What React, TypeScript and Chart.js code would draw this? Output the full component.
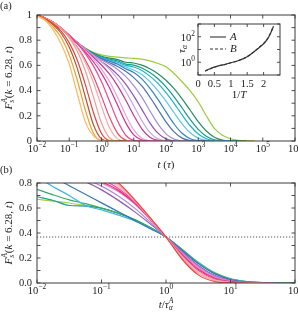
import React, { useEffect, useRef } from 'react';
import { Chart, registerables } from 'chart.js';

Chart.register(...registerables);

const SERIF = "'Liberation Serif', 'DejaVu Serif', serif";
const INK = '#222';
const FRAME = '#3a3a3a';

// ---------------- Panel (a): F_s^A(k=6.28,t) vs t ----------------
const tTop = [0.01, 0.0178, 0.0316, 0.0562, 0.1, 0.178, 0.316, 0.562, 1, 1.78, 3.16, 5.62, 10, 17.8, 31.6, 56.2, 100, 178, 316, 562, 1000, 1780, 3160, 5620, 10000, 17800, 31600, 56200];
const xTopTicks = [0.01, 0.1, 1, 10, 100, 1000, 1e4, 1e5, 1e6];
const xTopExp = ['−2', '−1', '0', '1', '2', '3', '4', '5', '6'];
const yTopTicks = [0, 0.2, 0.4, 0.6, 0.8, 1];
const yTopLabels = ['0', '0.2', '0.4', '0.6', '0.8', '1'];
const yTopMarks = [0, 0.1, 0.2, 0.3, 0.4, 0.5, 0.6, 0.7, 0.8, 0.9, 1];

const topColors = [
  '#FDB85E', '#F59E2C', '#B0583A', '#E8423F', '#F59A8E', '#F6A9B4', '#EE4A66',
  '#F0458F', '#D92E98', '#E7A3D3', '#BE3A98', '#C8A8E0', '#9152B8', '#A48ED0',
  '#4C6FAF', '#2E86C1', '#5CC4EE', '#1FB3C4', '#169C8A', '#2A8C5A', '#9ACD3C',
];

const fA1 = [0.992, 0.958, 0.882, 0.77, 0.61, 0.375, 0.15, 0.04, 0.005, 0, 0];
const fA2 = [0.994, 0.962, 0.905, 0.821, 0.683, 0.482, 0.244, 0.062, 0.004, 0, 0];
const fA3 = [0.995, 0.966, 0.923, 0.855, 0.744, 0.574, 0.349, 0.129, 0.017, 0, 0];
const fA4 = [0.996, 0.969, 0.931, 0.872, 0.779, 0.641, 0.448, 0.226, 0.059, 0.004, 0, 0];
const fA5 = [0.997, 0.973, 0.942, 0.895, 0.82, 0.712, 0.556, 0.35, 0.143, 0.025, 0.001, 0];
const fA6 = [0.997, 0.974, 0.941, 0.894, 0.828, 0.74, 0.622, 0.464, 0.275, 0.105, 0.017, 0.001, 0];
const fA7 = [0.998, 0.975, 0.94, 0.892, 0.826, 0.745, 0.643, 0.513, 0.354, 0.188, 0.061, 0.008, 0, 0];
const fA8 = [0.998, 0.976, 0.944, 0.898, 0.839, 0.772, 0.694, 0.596, 0.47, 0.316, 0.158, 0.046, 0.005, 0, 0];
const fA9 = [0.998, 0.976, 0.942, 0.896, 0.838, 0.774, 0.706, 0.629, 0.537, 0.421, 0.283, 0.146, 0.049, 0.008, 0, 0];
const fA10 = [0.998, 0.976, 0.943, 0.898, 0.84, 0.779, 0.718, 0.65, 0.571, 0.472, 0.346, 0.207, 0.088, 0.021, 0.002, 0, 0];
const fA11 = [0.998, 0.976, 0.941, 0.894, 0.837, 0.778, 0.722, 0.664, 0.603, 0.53, 0.438, 0.325, 0.203, 0.097, 0.03, 0.005, 0, 0];
const fA12 = [0.998, 0.976, 0.941, 0.895, 0.839, 0.782, 0.73, 0.679, 0.627, 0.569, 0.492, 0.395, 0.279, 0.162, 0.068, 0.017, 0.002, 0, 0];
const fA13 = [0.998, 0.976, 0.94, 0.893, 0.836, 0.779, 0.724, 0.675, 0.63, 0.584, 0.527, 0.452, 0.358, 0.251, 0.144, 0.062, 0.017, 0.002, 0, 0];
const fA14 = [0.999, 0.976, 0.94, 0.894, 0.836, 0.781, 0.727, 0.682, 0.644, 0.609, 0.568, 0.513, 0.439, 0.348, 0.24, 0.136, 0.057, 0.015, 0.002, 0, 0];
const fA15 = [0.999, 0.976, 0.94, 0.893, 0.836, 0.781, 0.727, 0.685, 0.65, 0.621, 0.592, 0.554, 0.503, 0.437, 0.349, 0.25, 0.152, 0.072, 0.023, 0.004, 0, 0];
const fA16 = [0.999, 0.976, 0.94, 0.894, 0.836, 0.782, 0.729, 0.688, 0.657, 0.633, 0.609, 0.574, 0.544, 0.493, 0.42, 0.331, 0.231, 0.135, 0.061, 0.018, 0.003, 0, 0];
const fA17 = [0.999, 0.976, 0.94, 0.892, 0.834, 0.779, 0.727, 0.687, 0.657, 0.635, 0.615, 0.587, 0.564, 0.527, 0.471, 0.4, 0.316, 0.224, 0.136, 0.066, 0.023, 0.005, 0.001, 0, 0];
const fA18 = [0.999, 0.976, 0.94, 0.892, 0.833, 0.778, 0.728, 0.688, 0.661, 0.642, 0.625, 0.6, 0.587, 0.559, 0.515, 0.457, 0.384, 0.299, 0.207, 0.121, 0.056, 0.018, 0.004, 0, 0];
const fA19 = [0.999, 0.976, 0.94, 0.892, 0.834, 0.78, 0.731, 0.693, 0.667, 0.649, 0.635, 0.61, 0.602, 0.58, 0.543, 0.494, 0.43, 0.351, 0.262, 0.171, 0.092, 0.038, 0.01, 0.002, 0, 0];
const fA20 = [0.999, 0.976, 0.94, 0.893, 0.835, 0.781, 0.734, 0.698, 0.673, 0.658, 0.646, 0.625, 0.619, 0.602, 0.573, 0.534, 0.482, 0.415, 0.334, 0.244, 0.154, 0.079, 0.03, 0.007, 0.001, 0, 0];
const fA21 = [1, 0.977, 0.942, 0.892, 0.837, 0.782, 0.738, 0.703, 0.683, 0.672, 0.666, 0.66, 0.655, 0.65, 0.636, 0.615, 0.59, 0.536, 0.47, 0.398, 0.31, 0.2, 0.1, 0.045, 0.018, 0.006, 0.002, 0];
const topCurves = [fA1, fA2, fA3, fA4, fA5, fA6, fA7, fA8, fA9, fA10, fA11, fA12, fA13, fA14, fA15, fA16, fA17, fA18, fA19, fA20, fA21];

// ---------------- Inset: tau_alpha vs 1/T ----------------
const invT = [0.22, 0.4, 0.6, 0.8, 1.0, 1.2, 1.4, 1.55, 1.7, 1.85, 2.0, 2.1, 2.2, 2.3];
const tauA = [0.21, 0.34, 0.5, 0.66, 0.91, 1.26, 2.0, 3.3, 6.3, 13.2, 28, 56, 158, 630];
const tauB = [0.2, 0.33, 0.49, 0.65, 0.9, 1.25, 2.0, 3.4, 6.5, 13.8, 29.5, 60, 170, 680];
const insetXTicks = [0, 0.5, 1, 1.5, 2];
const insetXLabels = ['0', '0.5', '1', '1.5', '2'];
const insetYTicks = [0.1, 1, 10, 100, 1000];
const insetYLabelTicks = [1, 100];
const insetYExp = ['0', '2'];

// ---------------- Panel (b): F vs t/tau_alpha ----------------
const uBot = [0.01, 0.0178, 0.0316, 0.0562, 0.1, 0.178, 0.316, 0.562, 1, 1.78, 3.16, 5.62, 10, 17.8, 31.6, 56.2, 100];
const xBotTicks = [0.01, 0.1, 1, 10, 100];
const xBotExp = ['−2', '−1', '0', '1', '2'];
const yBotTicks = [0, 0.2, 0.4, 0.6, 0.8];
const yBotLabels = ['0.0', '0.2', '0.4', '0.6', '0.8'];
const yBotMarks = [0, 0.1, 0.2, 0.3, 0.4, 0.5, 0.6, 0.7, 0.8];
const dottedLevel = [0.3679, 0.3679];
const dottedX = [0.01, 100];

const botColors = [
  '#F0433F', '#F7A59C', '#F6B0C8', '#F2478F', '#E7298A', '#E485C0', '#B58AD0',
  '#8E5BB5', '#3877AE', '#42B3E6', '#35A86A', '#1FA08A', '#A2D044',
];
const fB1 = [0.99, 0.98, 0.96, 0.925, 0.875, 0.805, 0.675, 0.525, 0.368, 0.19, 0.065, 0.012, 0.001, 0];
const fB2 = [0.98, 0.965, 0.945, 0.91, 0.86, 0.79, 0.67, 0.52, 0.368, 0.2, 0.078, 0.018, 0.003, 0];
const fB3 = [0.97, 0.955, 0.93, 0.895, 0.845, 0.775, 0.665, 0.52, 0.368, 0.21, 0.09, 0.025, 0.005, 0.001, 0];
const fB4 = [0.96, 0.945, 0.92, 0.88, 0.83, 0.76, 0.655, 0.515, 0.368, 0.22, 0.1, 0.033, 0.008, 0.001, 0];
const fB5 = [0.95, 0.935, 0.905, 0.865, 0.81, 0.745, 0.645, 0.515, 0.368, 0.228, 0.11, 0.04, 0.011, 0.002, 0];
const fB6 = [0.94, 0.92, 0.89, 0.85, 0.8, 0.735, 0.64, 0.51, 0.368, 0.235, 0.12, 0.047, 0.014, 0.003, 0];
const fB7 = [0.93, 0.905, 0.87, 0.83, 0.775, 0.7, 0.605, 0.49, 0.368, 0.242, 0.13, 0.055, 0.018, 0.004, 0.001, 0];
const fB8 = [0.92, 0.89, 0.85, 0.81, 0.745, 0.665, 0.575, 0.475, 0.368, 0.25, 0.14, 0.062, 0.022, 0.006, 0.001, 0];
const fB9 = [0.9, 0.845, 0.778, 0.71, 0.641, 0.573, 0.505, 0.436, 0.368, 0.26, 0.155, 0.075, 0.028, 0.008, 0.002, 0];
const fB10 = [0.85, 0.77, 0.7, 0.62, 0.585, 0.545, 0.5, 0.44, 0.368, 0.265, 0.16, 0.08, 0.031, 0.01, 0.003, 0];
const fB11 = [0.75, 0.705, 0.665, 0.635, 0.6, 0.56, 0.51, 0.445, 0.368, 0.268, 0.162, 0.08, 0.032, 0.011, 0.003, 0.001, 0];
const fB12 = [0.69, 0.66, 0.62, 0.615, 0.598, 0.56, 0.51, 0.445, 0.368, 0.265, 0.16, 0.08, 0.032, 0.011, 0.003, 0.001, 0];
const fB13 = [0.67, 0.655, 0.64, 0.62, 0.598, 0.56, 0.512, 0.446, 0.368, 0.27, 0.168, 0.085, 0.035, 0.012, 0.004, 0.001, 0];
const botCurves = [fB1, fB2, fB3, fB4, fB5, fB6, fB7, fB8, fB9, fB10, fB11, fB12, fB13];

// ---------------- drawing helpers ----------------
type Seg = { t: string; it?: boolean; sub?: boolean; sup?: boolean; stack?: boolean };
type RichItem = { segs: Seg[]; x: number; y: number; rot?: number; align?: 'left' | 'center' | 'right'; size: number };

function drawRich(ctx: CanvasRenderingContext2D, item: RichItem) {
  const { segs, size } = item;
  const pieces: { x: number; dy: number; font: string; t: string }[] = [];
  let cursor = 0;
  let lastStart = 0;
  let width = 0;
  for (const s of segs) {
    const small = s.sub || s.sup;
    const fs = small ? size * 0.7 : size;
    const font = `${s.it ? 'italic ' : ''}${fs}px ${SERIF}`;
    ctx.font = font;
    const w = ctx.measureText(s.t).width;
    let x0: number;
    if (s.stack) {
      x0 = lastStart;
      cursor = Math.max(cursor, x0 + w);
    } else {
      x0 = cursor;
      lastStart = x0;
      cursor += w;
    }
    width = Math.max(width, cursor);
    const dy = s.sub ? size * 0.28 : s.sup ? -size * 0.38 : 0;
    pieces.push({ x: x0, dy, font, t: s.t });
  }
  const off = item.align === 'left' ? 0 : item.align === 'right' ? -width : -width / 2;
  ctx.save();
  ctx.translate(item.x, item.y);
  if (item.rot) ctx.rotate(item.rot);
  ctx.fillStyle = INK;
  ctx.textBaseline = 'middle';
  ctx.textAlign = 'left';
  for (const p of pieces) {
    ctx.font = p.font;
    ctx.fillText(p.t, off + p.x, p.dy);
  }
  ctx.restore();
}

function richPlugin(items: RichItem[]) {
  return {
    id: 'rich',
    afterDraw(chart: any) {
      for (const it of items) drawRich(chart.ctx, it);
    },
  };
}

// power-of-ten tick labels (10^n) drawn with real superscripts
function powLabels(axis: 'x' | 'y', values: number[], exps: string[], gap: number) {
  return {
    id: 'pow' + axis,
    afterDraw(chart: any) {
      const { ctx, chartArea: a, scales } = chart;
      values.forEach((v, i) => {
        const segs: Seg[] = [{ t: '10' }, { t: exps[i], sup: true }];
        if (axis === 'x') {
          drawRich(ctx, { segs, x: scales.x.getPixelForValue(v), y: a.bottom + gap, size: 10.5, align: 'center' });
        } else {
          drawRich(ctx, { segs, x: a.left - gap, y: scales.y.getPixelForValue(v) + 1, size: 10.5, align: 'right' });
        }
      });
    },
  };
}

function framePlugin(xMarks: number[], yMarks: number[], len: number) {
  return {
    id: 'frame',
    afterDatasetsDraw(chart: any) {
      const { ctx, chartArea: a, scales } = chart;
      ctx.save();
      ctx.strokeStyle = FRAME;
      ctx.setLineDash([]);
      ctx.lineWidth = 0.9;
      ctx.beginPath();
      for (const v of xMarks) {
        const px = scales.x.getPixelForValue(v);
        ctx.moveTo(px, a.bottom);
        ctx.lineTo(px, a.bottom - len);
        ctx.moveTo(px, a.top);
        ctx.lineTo(px, a.top + len);
      }
      for (const v of yMarks) {
        const py = scales.y.getPixelForValue(v);
        ctx.moveTo(a.left, py);
        ctx.lineTo(a.left + len, py);
        ctx.moveTo(a.right, py);
        ctx.lineTo(a.right - len, py);
      }
      ctx.stroke();
      ctx.lineWidth = 1;
      ctx.strokeRect(a.left, a.top, a.right - a.left, a.bottom - a.top);
      ctx.restore();
    },
  };
}

function legendPlugin() {
  return {
    id: 'insetLegend',
    afterDraw(chart: any) {
      const { ctx, chartArea: a } = chart;
      const rows = [
        { label: 'A', dash: [] as number[], dy: 13 },
        { label: 'B', dash: [3, 2], dy: 25 },
      ];
      ctx.save();
      for (const r of rows) {
        ctx.strokeStyle = '#333';
        ctx.lineWidth = 1.1;
        ctx.setLineDash(r.dash);
        ctx.beginPath();
        ctx.moveTo(a.left + 12, a.top + r.dy);
        ctx.lineTo(a.left + 28, a.top + r.dy);
        ctx.stroke();
        ctx.setLineDash([]);
        ctx.fillStyle = INK;
        ctx.font = `italic 11px ${SERIF}`;
        ctx.textBaseline = 'middle';
        ctx.textAlign = 'left';
        ctx.fillText(r.label, a.left + 32, a.top + r.dy);
      }
      ctx.restore();
    },
  };
}

const tickFont = { size: 10.5, family: SERIF };

const fsTitle: Seg[] = [
  { t: 'F', it: true },
  { t: 's', it: true, sub: true },
  { t: 'A', it: true, sup: true, stack: true },
  { t: '(' },
  { t: 'k', it: true },
  { t: ' = 6.28, ' },
  { t: 't', it: true },
  { t: ')' },
];

const hiddenGrid = { display: false, drawTicks: false };

export default function App() {
  const topRef = useRef<HTMLCanvasElement>(null);
  const botRef = useRef<HTMLCanvasElement>(null);
  const insRef = useRef<HTMLCanvasElement>(null);

  useEffect(() => {
    document.body.style.margin = '0';
    Chart.defaults.font.family = SERIF;
    Chart.defaults.color = INK;

    const baseLine = { borderWidth: 1.2, pointRadius: 0, cubicInterpolationMode: 'monotone' as const, fill: false };
    const common = {
      animation: false,
      responsive: false,
      devicePixelRatio: 1,
      plugins: { legend: { display: false }, tooltip: { enabled: false } },
    };

    const top = new Chart(topRef.current!, {
      type: 'line',
      data: {
        datasets: topCurves.map((arr, i) => ({
          ...baseLine,
          borderColor: topColors[i],
          data: arr.map((f, j) => ({ x: tTop[j], y: f })),
        })),
      },
      options: {
        ...common,
        layout: { padding: { top: 15, right: 3, left: 0, bottom: 0 } },
        scales: {
          x: {
            type: 'logarithmic',
            min: 0.01,
            max: 1e6,
            grid: hiddenGrid,
            border: { display: false },
            afterBuildTicks: (s: any) => { s.ticks = xTopTicks.map((v) => ({ value: v })); },
            afterFit: (s: any) => { s.height = 31; },
            ticks: { display: false },
          },
          y: {
            min: 0,
            max: 1,
            grid: hiddenGrid,
            border: { display: false },
            afterBuildTicks: (s: any) => { s.ticks = yTopTicks.map((v) => ({ value: v })); },
            afterFit: (s: any) => { s.width = 37; },
            ticks: { callback: (_v: any, i: number) => yTopLabels[i], padding: 5, color: INK, font: tickFont },
          },
        },
      } as any,
      plugins: [
        framePlugin(xTopTicks, yTopMarks, 3.5),
        powLabels('x', xTopTicks, xTopExp, 8.5),
        richPlugin([
          { segs: [{ t: '(a)' }], x: 0, y: 6, align: 'left', size: 10.5 },
          { segs: fsTitle, x: 9, y: 78, rot: -Math.PI / 2, size: 11 },
          { segs: [{ t: 't', it: true }, { t: ' (' }, { t: 'τ', it: true }, { t: ')' }], x: 166, y: 165, size: 11 },
        ]),
      ],
    });

    const bot = new Chart(botRef.current!, {
      type: 'line',
      data: {
        datasets: [
          {
            borderWidth: 1,
            pointRadius: 0,
            borderColor: '#555',
            borderDash: [1.2, 1.8],
            data: dottedX.map((x, j) => ({ x, y: dottedLevel[j] })),
          },
          ...botCurves.map((arr, i) => ({
            ...baseLine,
            borderColor: botColors[i],
            data: arr.map((f, j) => ({ x: uBot[j], y: f })),
          })),
        ],
      },
      options: {
        ...common,
        layout: { padding: { top: 23, right: 3, left: 0, bottom: 0 } },
        scales: {
          x: {
            type: 'logarithmic',
            min: 0.01,
            max: 100,
            grid: hiddenGrid,
            border: { display: false },
            afterBuildTicks: (s: any) => { s.ticks = xBotTicks.map((v) => ({ value: v })); },
            afterFit: (s: any) => { s.height = 33; },
            ticks: { display: false },
          },
          y: {
            min: 0,
            max: 0.8,
            grid: hiddenGrid,
            border: { display: false },
            afterBuildTicks: (s: any) => { s.ticks = yBotTicks.map((v) => ({ value: v })); },
            afterFit: (s: any) => { s.width = 37; },
            ticks: { callback: (_v: any, i: number) => yBotLabels[i], padding: 5, color: INK, font: tickFont },
          },
        },
      } as any,
      plugins: [
        framePlugin(xBotTicks, yBotMarks, 3.5),
        powLabels('x', xBotTicks, xBotExp, 8),
        richPlugin([
          { segs: [{ t: '(b)' }], x: 0, y: 10, align: 'left', size: 10.5 },
          { segs: fsTitle, x: 9, y: 73, rot: -Math.PI / 2, size: 11 },
          {
            segs: [{ t: 't', it: true }, { t: '/' }, { t: 'τ', it: true }, { t: 'α', it: true, sub: true }, { t: 'A', it: true, sup: true, stack: true }],
            x: 166, y: 145, size: 11,
          },
        ]),
      ],
    });

    const ins = new Chart(insRef.current!, {
      type: 'line',
      data: {
        datasets: [
          { borderWidth: 1.2, pointRadius: 0, borderColor: '#333', tension: 0.3, data: invT.map((x, j) => ({ x, y: tauA[j] })) },
          { borderWidth: 1.1, pointRadius: 0, borderColor: '#333', borderDash: [3, 2], tension: 0.3, data: invT.map((x, j) => ({ x, y: tauB[j] })) },
        ],
      },
      options: {
        ...common,
        layout: { padding: { top: 6, right: 10, left: 0, bottom: 0 } },
        scales: {
          x: {
            type: 'linear',
            min: 0,
            max: 2.5,
            grid: hiddenGrid,
            border: { display: false },
            afterBuildTicks: (s: any) => { s.ticks = insetXTicks.map((v) => ({ value: v })); },
            afterFit: (s: any) => { s.height = 29; },
            ticks: { callback: (_v: any, i: number) => insetXLabels[i], maxRotation: 0, autoSkip: false, padding: 3, color: INK, font: tickFont },
          },
          y: {
            type: 'logarithmic',
            min: 0.1,
            max: 1000,
            grid: hiddenGrid,
            border: { display: false },
            afterBuildTicks: (s: any) => { s.ticks = insetYTicks.map((v) => ({ value: v })); },
            afterFit: (s: any) => { s.width = 30; },
            ticks: { display: false },
          },
        },
      } as any,
      plugins: [
        framePlugin(insetXTicks, insetYTicks, 3),
        powLabels('y', insetYLabelTicks, insetYExp, 3),
        legendPlugin(),
        richPlugin([
          { segs: [{ t: 'τ', it: true }, { t: 'α', it: true, sub: true }], x: 14, y: 31, rot: -Math.PI / 2, size: 11 },
          { segs: [{ t: '1/' }, { t: 'T', it: true }], x: 71, y: 77, size: 11 },
        ]),
      ],
    });

    return () => {
      top.destroy();
      bot.destroy();
      ins.destroy();
    };
  }, []);

  return (
    <div style={{ position: 'relative', width: 298, height: 316, background: '#fff', overflow: 'hidden' }}>
      <canvas ref={topRef} width={298} height={172} style={{ position: 'absolute', left: 0, top: 0 }} />
      <canvas ref={botRef} width={298} height={156} style={{ position: 'absolute', left: 0, top: 160 }} />
      <canvas ref={insRef} width={122} height={86} style={{ position: 'absolute', left: 168, top: 18 }} />
    </div>
  );
}
